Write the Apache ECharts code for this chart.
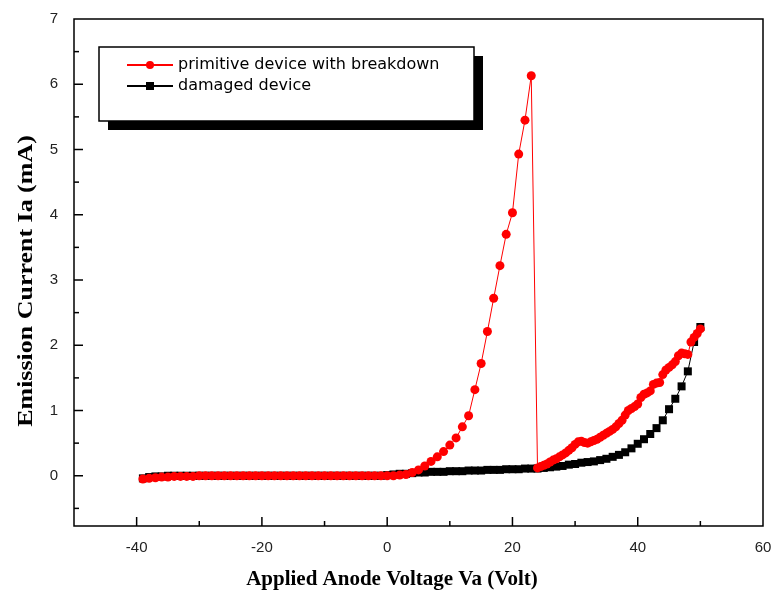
<!DOCTYPE html>
<html><head><meta charset="utf-8">
<script src="https://cdn.jsdelivr.net/npm/echarts@6/dist/echarts.min.js"></script>
<style>html,body{margin:0;padding:0;background:#fff}#c{width:776px;height:602px}</style>
</head><body><div id="c"></div>
<script>
// ---- data ----
const seriesNames = ['primitive device with breakdown', 'damaged device'];

const primitiveVoltage = [
  -39,-38,-37,-36,-35,-34,-33,-32,-31,-30,-29,-28,-27,-26,-25,-24,-23,-22,-21,-20,
  -19,-18,-17,-16,-15,-14,-13,-12,-11,-10,-9,-8,-7,-6,-5,-4,-3,-2,-1,0,
  1,2,3,4,5,6,7,8,9,10,11,12,13,14,15,16,17,18,19,20,21,22,23,
  24,24.5,25,25.5,26,26.5,27,27.5,28,28.5,29,29.5,30,30.5,31,31.5,32,32.5,33,33.5,
  34,34.5,35,35.5,36,36.5,37,37.5,38,38.5,39,39.5,40,40.5,41,41.5,42,42.5,43,43.5,
  44,44.5,45,45.5,46,46.5,47,47.5,48,48.5,49,49.5,50
];
const primitiveCurrent = [
  -0.05,-0.04,-0.03,-0.02,-0.02,-0.01,-0.01,-0.01,-0.01,0.00,0.00,0.00,0.00,0.00,0.00,0.00,0.00,0.00,0.00,0.00,
  0.00,0.00,0.00,0.00,0.00,0.00,0.00,0.00,0.00,0.00,0.00,0.00,0.00,0.00,0.00,0.00,0.00,0.00,0.00,0.00,
  0.00,0.01,0.02,0.05,0.09,0.15,0.22,0.29,0.37,0.47,0.58,0.75,0.92,1.32,1.72,2.21,2.72,3.22,3.70,4.03,4.93,5.45,6.13,
  0.12,0.14,0.16,0.18,0.21,0.24,0.26,0.29,0.32,0.35,0.39,0.43,0.48,0.52,0.53,0.51,0.50,0.52,0.54,0.56,
  0.59,0.62,0.65,0.68,0.71,0.75,0.80,0.85,0.93,1.00,1.03,1.06,1.10,1.20,1.25,1.27,1.30,1.40,1.42,1.43,
  1.55,1.62,1.66,1.70,1.75,1.84,1.88,1.87,1.86,2.05,2.12,2.18,2.25
];

const damagedVoltage = [
  -39,-38,-37,-36,-35,-34,-33,-32,-31,-30,-29,-28,-27,-26,-25,-24,-23,-22,-21,-20,
  -19,-18,-17,-16,-15,-14,-13,-12,-11,-10,-9,-8,-7,-6,-5,-4,-3,-2,-1,0,
  1,2,3,4,5,6,7,8,9,10,11,12,13,14,15,16,17,18,19,20,
  21,22,23,24,25,26,27,28,29,30,31,32,33,34,35,36,37,38,39,40,
  41,42,43,44,45,46,47,48,49,50
];
const damagedCurrent = [
  -0.04,-0.02,-0.01,-0.01,0.00,0.00,0.00,0.00,0.00,0.00,0.00,0.00,0.00,0.00,0.00,0.00,0.00,0.00,0.00,0.00,
  0.00,0.00,0.00,0.00,0.00,0.00,0.00,0.00,0.00,0.00,0.00,0.00,0.00,0.00,0.00,0.00,0.00,0.00,0.00,0.01,
  0.02,0.03,0.03,0.04,0.05,0.05,0.06,0.06,0.06,0.07,0.07,0.07,0.08,0.08,0.08,0.09,0.09,0.09,0.10,0.10,
  0.10,0.11,0.11,0.11,0.12,0.13,0.14,0.15,0.17,0.18,0.20,0.21,0.22,0.24,0.26,0.29,0.32,0.36,0.42,0.49,
  0.56,0.64,0.73,0.85,1.02,1.18,1.37,1.60,2.05,2.28
];

const xMajorTicks = [-40,-20,0,20,40];
const xMinorTicks = [-30,-10,10,30,50];
const xTickLabels = [-40,-20,0,20,40,60];
const yMajorTicks = [0,1,2,3,4,5,6];
const yMinorTicks = [-0.5,0.5,1.5,2.5,3.5,4.5,5.5,6.5];
const yTickLabels = [0,1,2,3,4,5,6,7];

const xTitle = 'Applied Anode Voltage Va (Volt)';
const yTitle = 'Emission Current Ia (mA)';

// ---- chart ----
const X_MIN = -50, X_MAX = 60, Y_MIN = -0.77, Y_MAX = 7;
const pair = (xs, ys) => xs.map((x, i) => [x, ys[i]]);
const chart = echarts.init(document.getElementById('c'));
const labelStyle = {fontFamily:'Liberation Sans', fontSize:15, color:'#222'};
const noLine = {show:false, onZero:false};

// tick marks drawn through the axes' own coordinate conversion
function tickSeries(values, isX, len) {
  return {
    type:'custom', silent:true, z:4, clip:false,
    data: values.map(v => isX ? [v, Y_MIN] : [X_MIN, v]),
    renderItem: function (params, api) {
      const p = api.coord([api.value(0), api.value(1)]);
      const shape = isX
        ? {x1:p[0], y1:p[1], x2:p[0], y2:p[1] - len}
        : {x1:p[0], y1:p[1], x2:p[0] + len, y2:p[1]};
      return {type:'line', shape:shape, style:{stroke:'#000', lineWidth:1.5}};
    }
  };
}

chart.setOption({
  animation: false,
  grid: {left:74, right:13, top:19, bottom:76, show:true, borderColor:'#000', borderWidth:1.5},
  legend: {
    orient:'vertical', left:126, top:57, padding:0, itemWidth:46, itemHeight:10, itemGap:5, z:10,
    data: seriesNames,
    textStyle:{fontFamily:'DejaVu Sans', fontSize:16, color:'#000'}
  },
  xAxis: {type:'value', min:X_MIN, max:X_MAX, position:'bottom',
    axisLine:noLine, splitLine:{show:false}, axisTick:{show:false},
    axisLabel:Object.assign({customValues:xTickLabels, margin:14}, labelStyle)},
  yAxis: {type:'value', min:Y_MIN, max:Y_MAX, position:'left',
    axisLine:noLine, splitLine:{show:false}, axisTick:{show:false},
    axisLabel:Object.assign({customValues:yTickLabels, margin:16}, labelStyle)},
  graphic: [
    {type:'rect', z:8, shape:{x:108, y:56, width:375, height:74}, style:{fill:'#000'}},
    {type:'rect', z:9, shape:{x:99, y:47, width:375, height:74}, style:{fill:'#fff', stroke:'#000', lineWidth:1.5}},
    {type:'text', z:9, x:392, y:580, style:{text:xTitle, font:'bold 21px "Liberation Serif"', fill:'#000', align:'center', verticalAlign:'middle'}},
    {type:'text', z:9, x:26, y:281, rotation:Math.PI/2, scaleX:1.18, style:{text:yTitle, font:'bold 22px "Liberation Serif"', fill:'#000', align:'center', verticalAlign:'middle'}}
  ],
  series: [
    {name:seriesNames[1], type:'line', z:2,
     data:pair(damagedVoltage, damagedCurrent),
     symbol:'rect', symbolSize:8, showAllSymbol:true,
     lineStyle:{color:'#000', width:1}, itemStyle:{color:'#000'}},
    {name:seriesNames[0], type:'line', z:3,
     data:pair(primitiveVoltage, primitiveCurrent),
     symbol:'circle', symbolSize:9, showAllSymbol:true,
     lineStyle:{color:'#ff0000', width:1}, itemStyle:{color:'#ff0000'}},
    tickSeries(xMajorTicks, true, 9),
    tickSeries(xMinorTicks, true, 5),
    tickSeries(yMajorTicks, false, 9),
    tickSeries(yMinorTicks, false, 5)
  ]
});
</script></body></html>
